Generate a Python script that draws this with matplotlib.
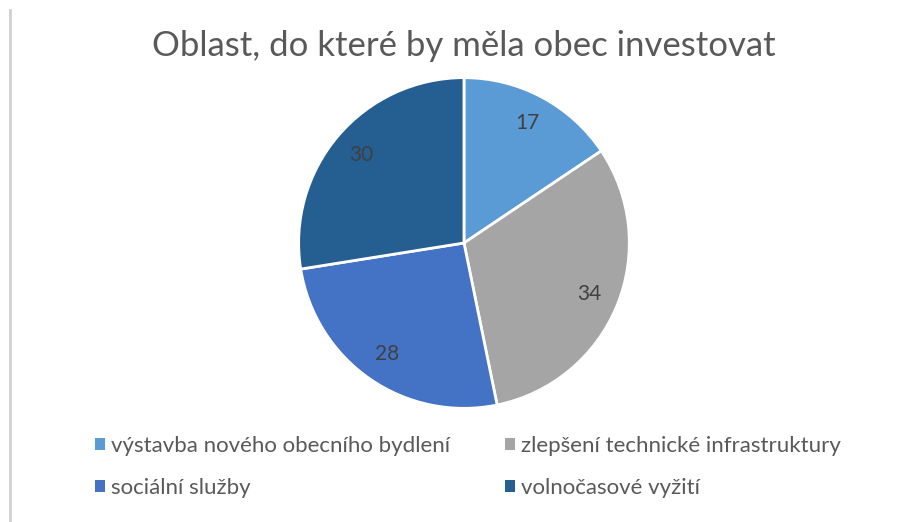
import matplotlib.pyplot as plt
from matplotlib.lines import Line2D
from matplotlib.patches import Patch

categories = ["výstavba nového obecního bydlení", "zlepšení technické infrastruktury",
              "sociální služby", "volnočasové vyžití"]
values = [17, 34, 28, 30]
colors = ["#5B9BD5", "#A5A5A5", "#4472C4", "#255E91"]

plt.rcParams['font.family'] = ['Lato', 'DejaVu Sans']

fig = plt.figure(figsize=(9.04, 5.22), dpi=100)
ax = fig.add_axes([0.3285, 0.2146, 0.3695, 0.6398])

wedges, texts, autotexts = ax.pie(values, colors=colors, startangle=90, counterclock=False,
                                  autopct=lambda p: "%d" % round(p * sum(values) / 100),
                                  pctdistance=0.82,
                                  wedgeprops=dict(edgecolor="white", linewidth=2),
                                  textprops=dict(color="#404040", fontsize=15))
ax.set_aspect("equal")
ax.set_xlim(-1.01, 1.01)
ax.set_ylim(-1.01, 1.01)

fig.text(0.513, 0.912, "Oblast, do které by měla obec investovat", ha="center", va="center",
         fontsize=25, color="#595959")

# legend in row order
order = [0, 2, 1, 3]
handles = [Patch(facecolor=colors[i], edgecolor="none") for i in order]
labels = [categories[i] for i in order]
fig.legend(handles, labels, loc="upper left", bbox_to_anchor=(95 / 904, 1 - 436 / 522),
           ncol=2, frameon=False, fontsize=16, labelcolor="#595959",
           handlelength=0.45, handleheight=0.45, handletextpad=0.25,
           columnspacing=2.5, labelspacing=1.0, borderaxespad=0, borderpad=0)

# thin border line on the left
fig.add_artist(Line2D([9.5 / 904, 9.5 / 904], [0, 1 - 10 / 522], transform=fig.transFigure,
                      color="#D0D0D0", linewidth=2))

fig.savefig("out.png", dpi=100, facecolor="white")
